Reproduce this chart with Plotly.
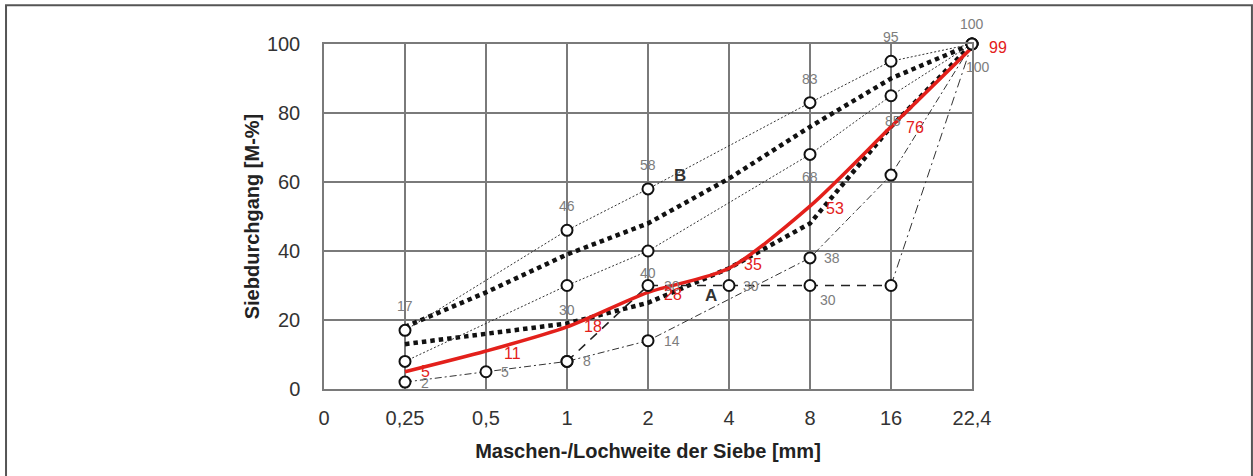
import plotly.graph_objects as go

# Sieve sizes (mm) on an evenly spaced category axis
sieves = ["0", "0,25", "0,5", "1", "2", "4", "8", "16", "22,4"]
y_ticks = [0, 20, 40, 60, 80, 100]

# Thin reference grading curves (passing in M-%)
curve_fine = [None, 17, None, 46, 58, None, 83, 95, 100]
curve_mid = [None, 8, None, 30, 40, None, 68, 85, 100]
curve_coarse = [None, 2, 5, 8, 14, None, 38, 62, 100]
curve_gap = [None, None, None, 8, 30, 30, 30, 30, 100]

# Thick dotted boundary curves B (upper) and A (lower)
bound_b = [None, 18, 28, 39, 48, 61, 76, 90, 100]
bound_a = [None, 13, 16, 19, 25, 35, 48, 76, 100]

# Measured grading of the sample
sample = [None, 5, 11, 18, 28, 35, 53, 76, 99]

BLACK = "#111111"
GRID = "#7a7a7a"
RED = "#e3201b"
LABEL_GRAY = "#7d7d7d"


def pts(values, start=0, stop=None):
    xs, ys = [], []
    for cat, v in list(zip(sieves, values))[start:stop]:
        xs.append(cat)
        ys.append(v)
    return xs, ys


fig = go.Figure()

# thick dotted boundary curves
for vals in (bound_b, bound_a):
    x, y = pts(vals)
    fig.add_trace(go.Scatter(
        x=x, y=y, mode="lines", connectgaps=True, cliponaxis=False,
        line=dict(color=BLACK, width=4.5, dash="4.5px,4px"), hoverinfo="skip"))

# thin grading curves
for vals in (curve_fine, curve_mid):
    x, y = pts(vals)
    fig.add_trace(go.Scatter(
        x=x, y=y, mode="lines", connectgaps=True, cliponaxis=False,
        line=dict(color="#333333", width=1, dash="2px,2px"), hoverinfo="skip"))

x, y = pts(curve_coarse)
fig.add_trace(go.Scatter(
    x=x, y=y, mode="lines", connectgaps=True, cliponaxis=False,
    line=dict(color="#333333", width=1, dash="7px,3px,2px,3px"), hoverinfo="skip"))

# gap-graded curve: dashed plateau, dash-dot rise to the top sieve
x, y = pts(curve_gap, 3, 8)
fig.add_trace(go.Scatter(
    x=x, y=y, mode="lines", connectgaps=True, cliponaxis=False,
    line=dict(color="#222222", width=1.6, dash="9px,7px"), hoverinfo="skip"))
x, y = pts(curve_gap, 7, 9)
fig.add_trace(go.Scatter(
    x=x, y=y, mode="lines", connectgaps=True, cliponaxis=False,
    line=dict(color="#333333", width=1, dash="9px,4px,2px,4px"), hoverinfo="skip"))

# sample curve
x, y = pts(sample)
fig.add_trace(go.Scatter(
    x=x, y=y, mode="lines", connectgaps=True, cliponaxis=False,
    line=dict(color=RED, width=3.5, shape="spline", smoothing=0.8), hoverinfo="skip"))

# open circle markers on the thin curves
for vals in (curve_fine, curve_mid, curve_coarse, curve_gap):
    x, y = pts(vals)
    fig.add_trace(go.Scatter(
        x=x, y=y, mode="markers", cliponaxis=False,
        marker=dict(size=11, color="white", line=dict(color=BLACK, width=2)),
        hoverinfo="skip"))

annotations = []


def add_labels(values, shifts, color, size, family):
    # annotations on a category axis are placed by category index
    for i, v in enumerate(values):
        if v is None or i not in shifts:
            continue
        dx, dy = shifts[i]
        annotations.append(dict(
            x=i, y=v, xref="x", yref="y", text=str(v), showarrow=False,
            xshift=dx, yshift=dy, font=dict(color=color, size=size, family=family)))


gray_font = "Liberation Sans Narrow, Liberation Sans, Arial"
add_labels(curve_fine, {1: (0, 24), 3: (0, 24), 4: (0, 24), 6: (0, 24), 7: (0, 24), 8: (0, 20)},
           LABEL_GRAY, 14, gray_font)
add_labels(curve_mid, {3: (0, -24), 4: (0, -22), 6: (0, -23), 7: (2, -25), 8: (6, -23)},
           LABEL_GRAY, 14, gray_font)
add_labels(curve_coarse, {1: (20, -1), 2: (19, 0), 3: (20, 0), 4: (24, 0), 6: (22, 0)},
           LABEL_GRAY, 14, gray_font)
add_labels(curve_gap, {4: (24, 0), 5: (22, 0), 6: (18, -14)},
           LABEL_GRAY, 14, gray_font)
add_labels(sample, {1: (20, 0), 2: (26, -2), 3: (26, 0), 4: (25, -2), 5: (24, 4), 6: (25, -2),
                    7: (24, -1), 8: (26, 0)},
           RED, 16, "Liberation Sans, Arial")

# curve names
annotations.append(dict(x=4.78, y=27, xref="x", yref="y", text="<b>A</b>", showarrow=False,
                        font=dict(size=17, color="#333333", family="Liberation Sans, Arial")))
annotations.append(dict(x=4.4, y=61.8, xref="x", yref="y", text="<b>B</b>", showarrow=False,
                        font=dict(size=17, color="#333333", family="Liberation Sans, Arial")))

fig.update_layout(
    width=1253, height=476,
    margin=dict(l=324, r=281, t=44, b=87),
    paper_bgcolor="white", plot_bgcolor="white",
    showlegend=False,
    annotations=annotations,
    font=dict(family="Liberation Sans, Arial", color="#333333"),
    shapes=[dict(type="rect", xref="paper", yref="paper",
                 x0=-0.4907, x1=1.432, y0=-0.27, y1=1.112,
                 line=dict(color="#555555", width=2))],
)

fig.update_xaxes(
    type="category", categoryorder="array", categoryarray=sieves,
    range=[0, len(sieves) - 1],
    showgrid=True, gridcolor=GRID, gridwidth=1.5,
    showline=True, linecolor=GRID, linewidth=1.5, mirror=True,
    ticks="", ticklabelstandoff=10,
    tickfont=dict(size=20, color="#333333"),
    title=dict(text="<b>Maschen-/Lochweite der Siebe [mm]</b>", standoff=16,
               font=dict(size=20, color="#222222")),
    zeroline=False,
)
fig.update_yaxes(
    range=[0, 100], tickvals=y_ticks,
    showgrid=True, gridcolor=GRID, gridwidth=1.5,
    showline=True, linecolor=GRID, linewidth=1.5, mirror=True,
    ticks="", ticklabelstandoff=18,
    tickfont=dict(size=20, color="#333333"),
    title=dict(text="<b>Siebdurchgang [M-%]</b>", standoff=2,
               font=dict(size=20, color="#222222")),
    zeroline=False,
)

fig.write_html("out.html")
